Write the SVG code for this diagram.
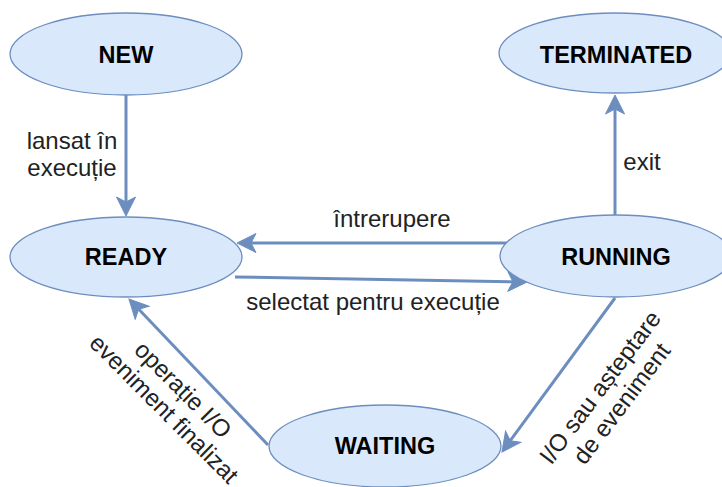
<svg xmlns="http://www.w3.org/2000/svg" width="722" height="487" viewBox="0 0 722 487">
<style>
.node ellipse{fill:#dae8fc;stroke:#6c8ebf;stroke-width:1.3}
.node text{font-family:"Liberation Sans",Arial,Helvetica,sans-serif;font-weight:bold;font-size:23.5px;fill:#000;text-anchor:middle}
.edge{fill:none;stroke:#6c8ebf;stroke-width:3;marker-end:url(#arr)}
.lbl{font-family:"Liberation Sans",Arial,Helvetica,sans-serif;font-size:24px;fill:#222;text-anchor:middle}
</style>
<defs>
<marker id="arr" viewBox="-20 -11 22 22" refX="-8" refY="0" markerWidth="22" markerHeight="22" markerUnits="userSpaceOnUse" orient="auto">
<path d="M0,0 L-19,-9.5 L-14,0 L-19,9.5 Z" fill="#6c8ebf" stroke="#6c8ebf" stroke-width="1" stroke-linejoin="miter"/>
</marker>
</defs>
<rect width="722" height="487" fill="#fff"/>
<g id="connectors">
<line class="edge" x1="126" y1="95" x2="126" y2="208"/>
<line class="edge" x1="507" y1="243" x2="245" y2="243"/>
<line class="edge" x1="235" y1="277" x2="519" y2="281.9"/>
<line class="edge" x1="615" y1="215" x2="615" y2="103"/>
<line class="edge" x1="268" y1="445" x2="134.5" y2="304.8"/>
<line class="edge" x1="615" y1="298" x2="506.7" y2="445.6"/>
<text class="lbl" x="72" y="149">lansat în</text>
<text class="lbl" x="72" y="176">execuție</text>
<text class="lbl" x="392" y="227">întrerupere</text>
<text class="lbl" x="373" y="310">selectat pentru execuție</text>
<text class="lbl" x="642" y="170">exit</text>
<g transform="translate(173.5,399.5) rotate(45)">
<text class="lbl" x="0" y="-5.5">operație I/O</text>
<text class="lbl" x="0" y="21.5">eveniment finalizat</text>
</g>
<g transform="translate(611,395.5) rotate(-53)">
<text class="lbl" x="0" y="-5.5">I/O sau așteptare</text>
<text class="lbl" x="0" y="21.5">de eveniment</text>
</g>
</g>
<g id="new" class="node"><ellipse cx="126" cy="54" rx="116" ry="41"/><text x="126" y="63">NEW</text></g>
<g id="terminated" class="node"><ellipse cx="615" cy="53" rx="116" ry="40"/><text x="616" y="63">TERMINATED</text></g>
<g id="ready" class="node"><ellipse cx="126" cy="257" rx="116" ry="40"/><text x="126" y="265">READY</text></g>
<g id="running" class="node"><ellipse cx="616" cy="256" rx="116" ry="41"/><text x="616" y="265">RUNNING</text></g>
<g id="waiting" class="node"><ellipse cx="385" cy="446" rx="116" ry="41"/><text x="385" y="454">WAITING</text></g>
</svg>
